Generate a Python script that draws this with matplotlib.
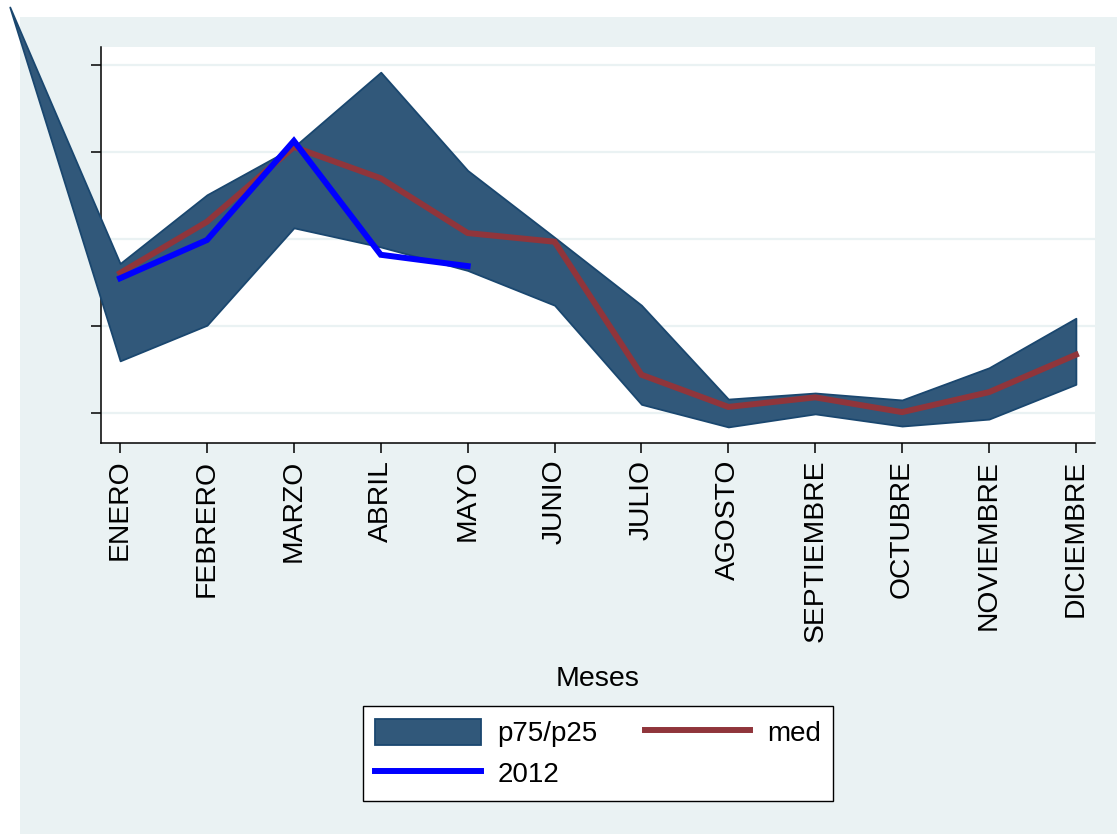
import numpy as np
import matplotlib
matplotlib.use("Agg")
import matplotlib.pyplot as plt
from matplotlib.patches import Rectangle

plt.rcParams["font.family"] = ["Liberation Sans", "DejaVu Sans"]

meses = ["ENERO", "FEBRERO", "MARZO", "ABRIL", "MAYO", "JUNIO", "JULIO",
         "AGOSTO", "SEPTIEMBRE", "OCTUBRE", "NOVIEMBRE", "DICIEMBRE"]

# month index; the first row is a stray observation that sits left of the axis
mes_band = [-0.27, 1, 2, 3, 4, 5, 6, 7, 8, 9, 10, 11, 12]
p75 = [4.67, 1.72, 2.51, 3.06, 3.92, 2.79, 2.02, 1.24, 0.16, 0.23, 0.15, 0.52, 1.09]
p25 = [4.67, 0.60, 1.01, 2.13, 1.91, 1.64, 1.24, 0.10, -0.16, -0.01, -0.15, -0.07, 0.33]

mes = [1, 2, 3, 4, 5, 6, 7, 8, 9, 10, 11, 12]
med = [1.61, 2.20, 3.06, 2.70, 2.07, 1.97, 0.44, 0.07, 0.18, 0.01, 0.24, 0.67]

mes_2012 = [1, 2, 3, 4, 5]
v_2012 = [1.55, 1.99, 3.13, 1.82, 1.69]

y_ticks = [0, 1, 2, 3, 4]

BG = "#eaf2f3"
NAVY = "#1a476f"
FILL = "#31587a"
MAROON = "#90353b"

W, H = 1117, 834
fig = plt.figure(figsize=(W / 100, H / 100), dpi=100, facecolor="white")
fig.patches.append(Rectangle((20 / W, 0), 1 - 20 / W, 1 - 17 / H,
                             transform=fig.transFigure, facecolor=BG,
                             edgecolor="none", zorder=-10))

ax = fig.add_axes([101 / W, 1 - 443 / H, (1095 - 101) / W, (443 - 47) / H])
ax.set_facecolor("white")

for y in y_ticks:
    ax.axhline(y, color=BG, lw=1.6, zorder=0)

# band goes above the spines, like the original graph engine draws it
band = ax.fill_between(mes_band, p25, p75, facecolor=FILL, edgecolor=NAVY,
                       lw=1.3, zorder=3, label="p75/p25")
band.set_clip_on(False)
l_med, = ax.plot(mes, med, color=MAROON, lw=4.3, zorder=4, label="med",
                 solid_joinstyle="miter")
l_2012, = ax.plot(mes_2012, v_2012, color="#0000ff", lw=4.3, zorder=5,
                  label="2012", solid_joinstyle="miter")

ax.set_xlim(0.78, 12.22)
ax.set_ylim(-0.345, 4.21)

ax.set_yticks(y_ticks)
ax.set_yticklabels([])
ax.set_xticks(mes)
ax.set_xticklabels(meses, rotation=90, fontsize=20.3)
ax.tick_params(axis="both", direction="out", length=7, width=1.1, color="black")
ax.tick_params(axis="x", pad=5)

for side in ["top", "right"]:
    ax.spines[side].set_visible(False)
for side in ["left", "bottom"]:
    ax.spines[side].set_linewidth(1.1)
    ax.spines[side].set_color("black")
    ax.spines[side].set_zorder(2)

ax.set_xlabel("Meses", fontsize=20.5, labelpad=17)

leg = fig.legend(handles=[band, l_2012, l_med], labels=["p75/p25", "2012", "med"],
                 ncol=2, loc="center", bbox_to_anchor=(598 / W, 1 - 753.5 / H),
                 fontsize=20, frameon=True, fancybox=False, framealpha=1,
                 handlelength=3.8, handleheight=1.05, handletextpad=0.6,
                 columnspacing=1.7, labelspacing=0.45, borderpad=0.45,
                 borderaxespad=0)
leg.get_frame().set_edgecolor("black")
leg.get_frame().set_linewidth(1.0)
leg.get_frame().set_facecolor("white")

fig.savefig("out.png", dpi=100, facecolor=fig.get_facecolor())
